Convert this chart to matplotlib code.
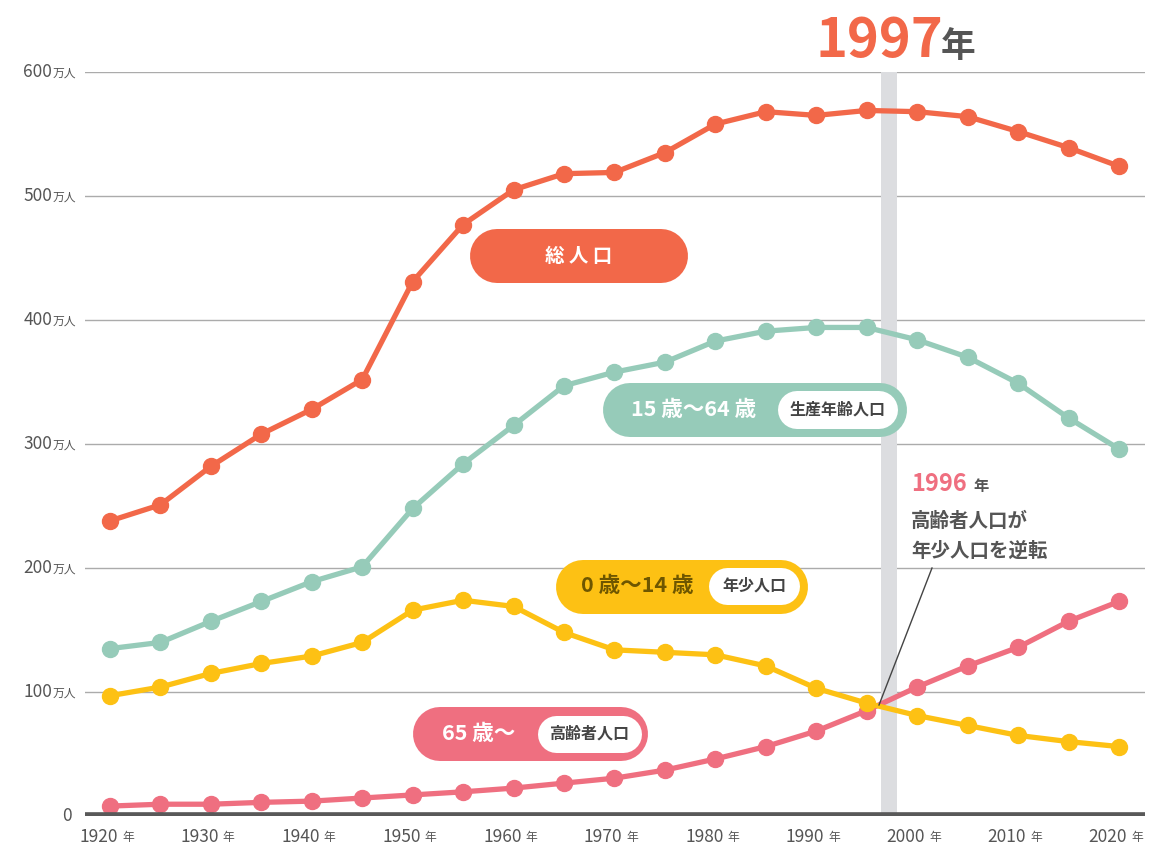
import matplotlib
matplotlib.use("Agg")
import matplotlib.pyplot as plt

plt.rcParams['font.family'] = ['Noto Sans CJK JP', 'DejaVu Sans']

years = list(range(1920, 2021, 5))
total = [238, 251, 282, 308, 328, 352, 431, 477, 505, 518, 519, 535, 558, 568, 565, 569, 568, 564, 552, 539, 524]
working = [135, 140, 157, 173, 189, 201, 248, 284, 315, 347, 358, 366, 383, 391, 394, 394, 384, 370, 349, 321, 296]
youth = [97, 104, 115, 123, 129, 140, 166, 174, 169, 148, 134, 132, 130, 121, 103, 91, 81, 73, 65, 60, 56]
elderly = [8, 9.5, 9.5, 11, 12, 14.5, 17, 19.5, 22.5, 26.5, 30.5, 37, 46, 56, 68.5, 85, 104, 121, 136, 157, 173]
yticks = [0, 100, 200, 300, 400, 500, 600]
xticks = list(range(1920, 2021, 10))
highlight_year = 1997
cross_year = 1996

C_TOTAL = '#F26849'
C_WORK = '#96CBB9'
C_YOUTH = '#FDC114'
C_ELD = '#EF6F80'
C_TEXT = '#555555'

W, H = 1150, 848
fig = plt.figure(figsize=(W / 100, H / 100), dpi=100)
ax = fig.add_axes([85 / W, (H - 816) / H, 1060 / W, 744 / H])
ax.set_xlim(1917.52, 2022.58)
ax.set_ylim(0, 600)
for s in ax.spines.values():
    s.set_visible(False)
ax.set_xticks([])
ax.set_yticks([])

for v in yticks[1:]:
    ax.axhline(v, color='#ABABAB', lw=1, zorder=1)
ax.axhline(0, color='#595959', lw=5.5, zorder=6, solid_capstyle='butt')

ax.axvspan(highlight_year - 0.6, highlight_year + 1.0, color='#DCDDE0', zorder=2, lw=0)

series = [(elderly, C_ELD, 3), (youth, C_YOUTH, 4), (working, C_WORK, 3), (total, C_TOTAL, 3)]
for data, col, z in series:
    ax.plot(years, data, color=col, lw=3.8, marker='o', markersize=11.5,
            zorder=z + 2, clip_on=False, solid_capstyle='round')

ytr = ax.get_yaxis_transform()
for v in yticks:
    if v == 0:
        ax.annotate('0', xy=(0, v), xycoords=ytr, xytext=(-13, 0), textcoords='offset pixels',
                    ha='right', va='center', fontsize=12.5, color=C_TEXT)
    else:
        ax.annotate(str(v), xy=(0, v), xycoords=ytr, xytext=(-33, 0), textcoords='offset pixels',
                    ha='right', va='center', fontsize=12.5, color=C_TEXT)
        ax.annotate('万人', xy=(0, v), xycoords=ytr, xytext=(-32, -1), textcoords='offset pixels',
                    ha='left', va='center', fontsize=8.5, color=C_TEXT)

xtr = ax.get_xaxis_transform()
for yr in xticks:
    ax.annotate(str(yr), xy=(yr, 0), xycoords=xtr, xytext=(8, -21), textcoords='offset pixels',
                ha='right', va='center', fontsize=12.5, color=C_TEXT)
    ax.annotate('年', xy=(yr, 0), xycoords=xtr, xytext=(12, -22), textcoords='offset pixels',
                ha='left', va='center', fontsize=8.5, color=C_TEXT)

# overlay in pixel coordinates for labels
ov = fig.add_axes([0, 0, 1, 1], zorder=10)
ov.set_xlim(0, W)
ov.set_ylim(H, 0)
ov.axis('off')


def pill(x0, y0, x1, y1, color):
    h = y1 - y0
    yc = (y0 + y1) / 2
    ov.plot([x0 + h / 2, x1 - h / 2], [yc, yc], color=color, lw=h * 72 / 100,
            solid_capstyle='round')


pill(470, 229, 688, 283, C_TOTAL)
ov.text(579, 256, '総 人 口', ha='center', va='center', fontsize=14, color='white', fontweight='bold')

pill(603, 383, 907, 437, C_WORK)
pill(778, 391, 898, 429, 'white')
ov.text(694, 410, '15 歳〜64 歳', ha='center', va='center', fontsize=15.5, color='white', fontweight='bold')
ov.text(838, 410, '生産年齢人口', ha='center', va='center', fontsize=11.5, color='#444444', fontweight='bold')

pill(556, 560, 808, 614, C_YOUTH)
pill(708, 567, 799, 604, 'white')
ov.text(637, 586, '0 歳〜14 歳', ha='center', va='center', fontsize=15.5, color='#6E5600', fontweight='bold')
ov.text(754, 586, '年少人口', ha='center', va='center', fontsize=11.5, color='#444444', fontweight='bold')

pill(413, 707, 648, 761, C_ELD)
pill(537, 715, 641, 752, 'white')
ov.text(479, 734, '65 歳〜', ha='center', va='center', fontsize=15.5, color='white', fontweight='bold')
ov.text(589, 734, '高齢者人口', ha='center', va='center', fontsize=11.5, color='#444444', fontweight='bold')

# title
ov.text(816, 57, str(highlight_year), ha='left', va='baseline', fontsize=39, color=C_TOTAL, fontweight='bold')
ov.text(941, 57, '年', ha='left', va='baseline', fontsize=25, color=C_TEXT, fontweight='bold')

# annotation
ov.text(911, 491, str(cross_year), ha='left', va='baseline', fontsize=17, color=C_ELD, fontweight='bold')
ov.text(973, 491, '年', ha='left', va='baseline', fontsize=11, color=C_TEXT, fontweight='bold')
ov.text(911, 521, '高齢者人口が', ha='left', va='center', fontsize=14, color=C_TEXT, fontweight='bold')
ov.text(911, 551, '年少人口を逆転', ha='left', va='center', fontsize=14, color=C_TEXT, fontweight='bold')
ov.plot([932, 879], [568, 705], color='#444444', lw=1)

fig.savefig('out.png', dpi=100)
